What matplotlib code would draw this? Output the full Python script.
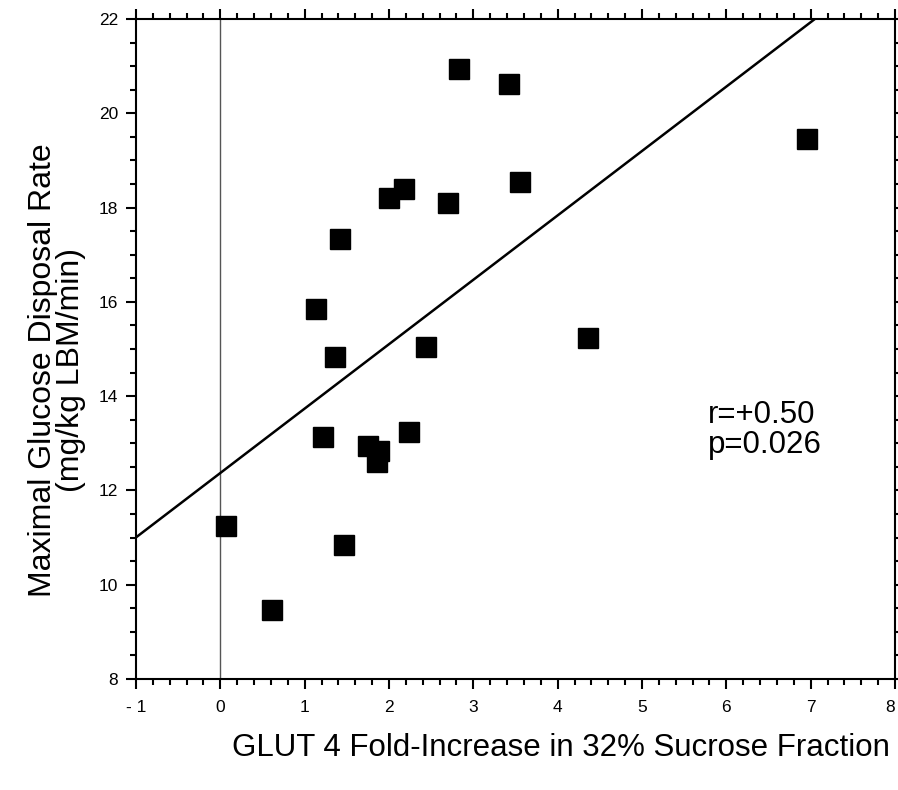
import numpy as np
import matplotlib
matplotlib.use('Agg')
import matplotlib.pyplot as plt
from matplotlib.ticker import MultipleLocator

plt.rcParams['font.family'] = ['Liberation Sans', 'DejaVu Sans']

# GLUT 4 fold-increase vs maximal glucose disposal rate
glut4 = [0.07, 0.61, 1.13, 1.36, 1.42, 1.22, 1.47, 1.75, 1.86, 1.88,
         2.00, 2.18, 2.24, 2.44, 2.70, 2.83, 3.42, 3.55, 4.36, 6.96]
disposal = [11.25, 9.47, 15.85, 14.83, 17.33, 13.13, 10.84, 12.94, 12.60, 12.84,
            18.20, 18.39, 13.25, 15.04, 18.10, 20.94, 20.62, 18.54, 15.23, 19.46]

# regression line
slope = 1.366
intercept = 12.37
line_x = [-1, 8]

x_ticks = [-1, 0, 1, 2, 3, 4, 5, 6, 7, 8]
x_ticklabels = ['- 1', '0', '1', '2', '3', '4', '5', '6', '7', '8']
y_ticks = [8, 10, 12, 14, 16, 18, 20, 22]

fig = plt.figure(figsize=(8.98, 7.9), dpi=100)
ax = fig.add_axes([136/898, 1 - 679/790, (895-136)/898, (679-19)/790])

ax.axvline(0, color='#555555', lw=1.0, zorder=1)
lx = np.array(line_x, dtype=float)
ax.plot(lx, intercept + slope*lx, color='k', lw=1.8, zorder=2)
ax.plot(glut4, disposal, 's', color='k', markersize=14, zorder=3)

ax.set_xlim(-1, 8)
ax.set_ylim(8, 22)
ax.set_xticks(x_ticks)
ax.set_xticklabels(x_ticklabels)
ax.set_yticks(y_ticks)
ax.xaxis.set_minor_locator(MultipleLocator(0.2))
ax.yaxis.set_minor_locator(MultipleLocator(0.5))
ax.tick_params(which='both', direction='out', top=True, right=True,
               width=1.5, labelsize=12.5, colors='k')
ax.tick_params(which='major', length=7)
ax.tick_params(which='minor', length=4)
ax.tick_params(axis='x', pad=8)
ax.tick_params(axis='y', pad=6)
ax.tick_params(labeltop=False, labelright=False)
# last label sits at the very edge of the figure
ax.get_xticklabels()[-1].set_horizontalalignment('right')
for s in ax.spines.values():
    s.set_linewidth(1.5)

ax.text(5.78, 13.28, 'r=+0.50\np=0.026', fontsize=22.5, ha='left', va='center',
        linespacing=1.0)

fig.text(57/898, 1 - 370/790, 'Maximal Glucose Disposal Rate\n(mg/kg LBM/min)',
         rotation=90, fontsize=23, ha='center', va='center', linespacing=0.95)
fig.text(561/898, 1 - 748/790, 'GLUT 4 Fold-Increase in 32% Sucrose Fraction',
         fontsize=22.5, ha='center', va='center')

fig.savefig('out.png', dpi=100)
